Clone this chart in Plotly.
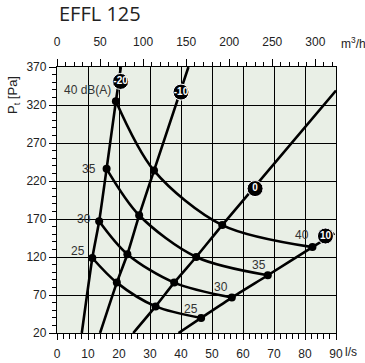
import plotly.graph_objects as go

# ---- data ----
db_levels = [25, 30, 35, 40]
damper_labels = ["<b>-20</b>", "<b>-10</b>", "<b>0</b>", "<b>10</b>"]

# intersection points (l/s, Pa) of each dB(A) curve with damper lines -20, -10, 0, 10
q25 = [11.4, 19.3, 31.8, 46.5]
p25 = [118.7, 86.3, 55.0, 39.8]
q30 = [13.6, 22.7, 37.8, 56.4]
p30 = [167.0, 123.6, 86.3, 66.6]
q35 = [16.0, 26.5, 44.9, 68.0]
p35 = [236.0, 174.9, 120.0, 96.0]
q40 = [19.0, 31.3, 53.3, 82.4]
p40 = [325.0, 233.7, 162.0, 133.0]

# damper line end points
start_q = [8.0, 13.9, 24.6, 39.2]
start_p = [20, 20, 20, 20]
end_q = [20.6, 42.4, 90.0, 89.5]
end_p = [370, 370, 339, 151]

# damper label positions
lab_q = [20.5, 40.0, 63.9, 86.6]
lab_p = [351, 337, 210, 147.6]

# dB label positions (left, right)
left_lab_text = ["25", "30", "35", "40 dB(A)"]
left_lab_q = [9.7, 11.6, 13.2, 18.1]
left_lab_p = [128, 170, 236, 340]
right_lab_text = ["25", "30", "35", "40"]
right_lab_q = [43.2, 53.0, 65.0, 78.9]
right_lab_p = [52, 80, 109, 148.5]

x_ticks = [0, 10, 20, 30, 40, 50, 60, 70, 80, 90]
y_ticks = [20, 70, 120, 170, 220, 270, 320, 370]
top_ticks = [0, 50, 100, 150, 200, 250, 300]

Q = [q25, q30, q35, q40]
P = [p25, p30, p35, p40]

fig = go.Figure()

LW = 2.6
# constant dB curves
for q, p in zip(Q, P):
    fig.add_trace(go.Scatter(x=q, y=p, mode="lines",
                             line=dict(color="black", width=LW, shape="spline", smoothing=0.9),
                             hoverinfo="skip", showlegend=False))

# damper lines
for i in range(4):
    xs = [start_q[i]] + [Q[k][i] for k in range(4)] + [end_q[i]]
    ys = [start_p[i]] + [P[k][i] for k in range(4)] + [end_p[i]]
    fig.add_trace(go.Scatter(x=xs, y=ys, mode="lines",
                             line=dict(color="black", width=LW, shape="spline", smoothing=0.6),
                             hoverinfo="skip", showlegend=False))

# intersection markers
mx = [v for q in Q for v in q]
my = [v for p in P for v in p]
fig.add_trace(go.Scatter(x=mx, y=my, mode="markers",
                         marker=dict(color="black", size=8),
                         hoverinfo="skip", showlegend=False))

# damper labels
fig.add_trace(go.Scatter(x=lab_q, y=lab_p, mode="markers+text", text=damper_labels,
                         textposition="middle center",
                         textfont=dict(color="white", size=10, family="Liberation Sans"),
                         marker=dict(color="black", size=16, line=dict(color="white", width=1)),
                         hoverinfo="skip", showlegend=False))

# dummy trace on top axis
fig.add_trace(go.Scatter(x=[0, 324], y=[20, 20], xaxis="x2", mode="lines",
                         line=dict(width=0), hoverinfo="skip", showlegend=False))

tickfont = dict(family="Liberation Sans, Arial", size=12, color="#222")

fig.update_layout(
    width=365, height=363, autosize=False,
    margin=dict(l=57, r=29, t=67, b=30),
    paper_bgcolor="white", plot_bgcolor="#e9efe6",
    xaxis=dict(range=[0, 90], tickvals=x_ticks, ticks="outside", ticklen=6, tickwidth=1,
               tickcolor="black", showgrid=True, gridcolor="black", gridwidth=1.3,
               showline=True, linecolor="black", linewidth=1.3, mirror=True,
               zeroline=False, tickfont=tickfont, automargin=False, ticklabelstandoff=3,
               minor=dict(dtick=2, ticks="outside", ticklen=5, tickcolor="black", showgrid=False)),
    xaxis2=dict(range=[0, 324], overlaying="x", side="top", tickvals=top_ticks,
                ticks="outside", ticklen=7, tickcolor="black", showgrid=False, zeroline=False,
                showline=True, linecolor="black", linewidth=1.3, tickfont=tickfont,
                automargin=False, ticklabelstandoff=8,
                minor=dict(dtick=10, ticks="outside", ticklen=4, tickcolor="black", showgrid=False)),
    yaxis=dict(range=[20, 370], tickvals=y_ticks, ticks="outside", ticklen=7, tickcolor="black",
               showgrid=True, gridcolor="black", gridwidth=1.3,
               showline=True, linecolor="black", linewidth=1.3, mirror=True,
               zeroline=False, tickfont=tickfont, automargin=False,
               minor=dict(dtick=10, ticks="outside", ticklen=4, tickcolor="black", showgrid=False)),
)

lab_font = dict(family="Liberation Sans, Arial", size=12, color="#333")
for t, x, y in zip(left_lab_text, left_lab_q, left_lab_p):
    fig.add_annotation(x=x, y=y, text=t, xref="x", yref="y", showarrow=False,
                       xanchor="right", yanchor="middle", font=lab_font)
for t, x, y in zip(right_lab_text, right_lab_q, right_lab_p):
    fig.add_annotation(x=x, y=y, text=t, xref="x", yref="y", showarrow=False,
                       xanchor="center", yanchor="middle", font=lab_font)

# title and axis labels
fig.add_annotation(x=0, y=1.2, xref="paper", yref="paper", text="EFFL 125", showarrow=False,
                   xanchor="left", yanchor="middle",
                   font=dict(family="Open Sans", size=20, color="#222"))
fig.add_annotation(x=1.011, y=1.09, xref="paper", yref="paper", text="m<sup>3</sup>/h",
                   showarrow=False, xanchor="left", yanchor="middle", font=tickfont)
fig.add_annotation(x=1.025, y=-0.071, xref="paper", yref="paper", text="l/s",
                   showarrow=False, xanchor="left", yanchor="middle", font=tickfont)
fig.add_annotation(x=-0.154, y=0.895, xref="paper", yref="paper", text="P<sub>t</sub> [Pa]",
                   showarrow=False, textangle=-90, xanchor="center", yanchor="middle",
                   font=dict(family="Liberation Sans, Arial", size=13, color="#222"))

fig.write_html("out.html", config={"displayModeBar": False},
               post_script="document.body.style.margin='0px';")
